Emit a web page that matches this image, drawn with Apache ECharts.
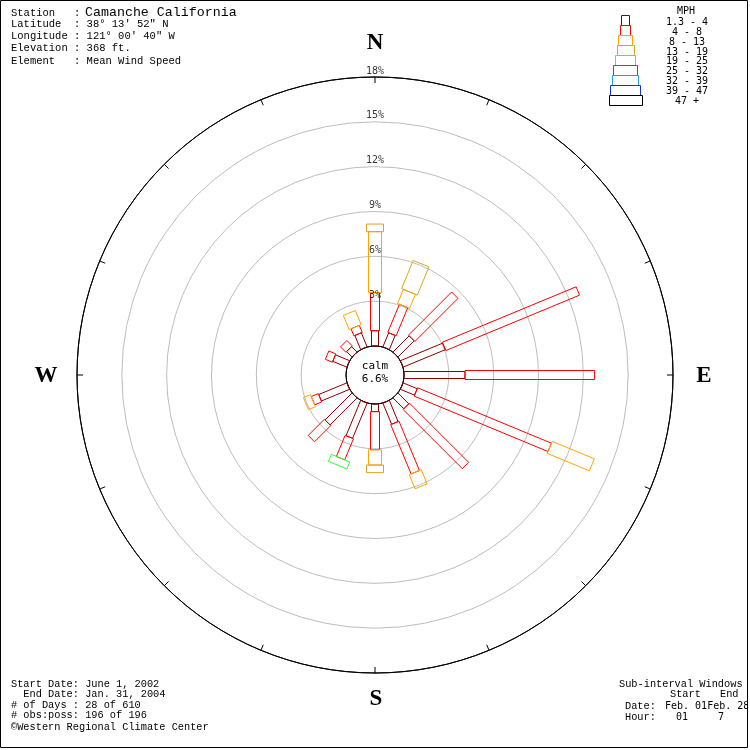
<!DOCTYPE html>
<html><head><meta charset="utf-8">
<script src="https://cdn.jsdelivr.net/npm/echarts@6/dist/echarts.min.js"></script>
<style>html,body{margin:0;padding:0;background:#fff}#c{width:750px;height:750px}</style>
</head><body><div id="c"></div>
<script>
// ---- data ----
const directions = ['N','NNE','NE','ENE','E','ESE','SE','SSE','S','SSW','SW','WSW','W','WNW','NW','NNW'];
const dirAngles  = [0,22.5,45,67.5,90,112.5,135,157.5,180,202.5,225,247.5,270,292.5,315,337.5];
const speedClasses = ['1.3 - 4','4 - 8','8 - 13','13 - 19','19 - 25','25 - 32','32 - 39','39 - 47','47 +'];
// percent of observations per direction for each speed class (MPH)
const pct_1_4   = [1.02,1.02,1.53,3.06,4.08,1.02,1.02,1.53,0.51,2.55,2.55,2.04,0,1.02,0.51,1.02];
const pct_4_8   = [2.55,2.04,4.08,9.69,8.67,9.69,5.61,3.57,2.55,1.53,1.53,0.51,0,0.51,0.51,0.51];
const pct_8_13  = [4.08,1.02,0,0,0,3.06,0,1.02,1.02,0,0,0.51,0,0,0,1.02];
const pct_13_19 = [0.51,2.04,0,0,0,0,0,0,0.51,0,0,0,0,0,0,0];
const pct_19_25 = [0,0,0,0,0,0,0,0,0,0.51,0,0,0,0,0,0];
const pct_25_32 = [0,0,0,0,0,0,0,0,0,0,0,0,0,0,0,0];
const pct_32_39 = [0,0,0,0,0,0,0,0,0,0,0,0,0,0,0,0];
const pct_39_47 = [0,0,0,0,0,0,0,0,0,0,0,0,0,0,0,0];
const pct_47up  = [0,0,0,0,0,0,0,0,0,0,0,0,0,0,0,0];
const ringTicks = [3,6,9,12,15,18];
const calmPct = 6.6;

// ---- styles ----
const classColors = ['#8b0000','#ff0000','#ffa500','#daa520','#33ff33','#009900','#1e9fe6','#1530e0','#000000'];
const barWidths   = [7,9,13,17,20,24,26,30,33];
const legendWidths= [8,10,14,17,20,24,26,30,33];

const classValues = [pct_1_4,pct_4_8,pct_8_13,pct_13_19,pct_19_25,pct_25_32,pct_32_39,pct_39_47,pct_47up];
const segments = [];
directions.forEach((d, i) => {
  let cum = 0;
  classValues.forEach((arr, k) => {
    const v = arr[i];
    if (v > 0) { segments.push([dirAngles[i], cum, cum + v, k]); cum += v; }
  });
});

const chart = echarts.init(document.getElementById('c'), null, {renderer: 'canvas'});
const MONO = '"Liberation Mono", monospace';
const SMONO = '"DejaVu Sans Mono", monospace';
function txt(text, x, y, font, align) {
  return {type: 'text', x: x, y: y, z: 10, silent: true,
    style: {text: text, font: font, fill: '#000', textAlign: align || 'left', textVerticalAlign: 'middle', verticalAlign: 'middle'}};
}
const graphics = [];
// header
const hdr = ['Station   : ', 'Latitude  : 38\u00b0 13\' 52" N', 'Longitude : 121\u00b0 00\' 40" W', 'Elevation : 368 ft.', 'Element   : Mean Wind Speed'];
const hdrY = [13, 24.5, 36, 48.5, 61];
hdr.forEach((t, i) => graphics.push(txt(t, 11, hdrY[i], '10.5px ' + MONO)));
graphics.push(txt('Camanche California', 85, 12.5, '13.3px ' + MONO));
// footer left
const ftr = ['Start Date: June 1, 2002', '  End Date: Jan. 31, 2004', '# of Days : 28 of 610', '# obs:poss: 196 of 196', '\u00a9Western Regional Climate Center'];
const ftrY = [684, 694.5, 705, 715.5, 727];
ftr.forEach((t, i) => graphics.push(txt(t, 11, ftrY[i], '10.3px ' + MONO)));
// footer right
graphics.push(txt('Sub-interval Windows', 619, 684, '10.3px ' + MONO));
graphics.push(txt('Start', 670, 694.5, '10.3px ' + MONO));
graphics.push(txt('End', 720, 694.5, '10.3px ' + MONO));
graphics.push(txt('Date:', 625, 706, '10.3px ' + MONO));
graphics.push(txt('Feb. 01Feb. 28', 665, 706, '10px ' + SMONO));
graphics.push(txt('Hour:', 625, 717, '10.3px ' + MONO));
graphics.push(txt('01', 676, 717, '10px ' + SMONO));
graphics.push(txt('7', 718, 717, '10px ' + SMONO));
// cardinal letters
const SERIF = 'bold 23px "Liberation Serif", serif';
graphics.push(txt('N', 375, 43, SERIF, 'center'));
graphics.push(txt('S', 376, 699, SERIF, 'center'));
graphics.push(txt('E', 704, 376, SERIF, 'center'));
graphics.push(txt('W', 46, 376, SERIF, 'center'));
// calm
graphics.push(txt('calm', 375, 366, '11px ' + SMONO, 'center'));
graphics.push(txt(calmPct.toFixed(1) + '%', 375, 379, '11px ' + SMONO, 'center'));
// legend
graphics.push(txt('MPH', 686, 11, '10px ' + SMONO, 'center'));
speedClasses.forEach((lab, i) => {
  const w = legendWidths[i];
  graphics.push({type: 'rect', z: 10, silent: true,
    shape: {x: Math.round(625 - w / 2) + 0.5, y: 15.5 + 10 * i, width: w, height: 10},
    style: {fill: 'none', stroke: classColors[i], lineWidth: 1}});
  graphics.push(txt(lab, 687, 22.7 + 9.8 * i, '10px ' + SMONO, 'center'));
});
// right clip + border
graphics.push({type: 'rect', z: 20, silent: true, shape: {x: 748, y: 0, width: 2, height: 750}, style: {fill: '#fff'}});
graphics.push({type: 'rect', z: 21, silent: true, shape: {x: 0.5, y: 0.5, width: 747, height: 747}, style: {fill: 'none', stroke: '#000', lineWidth: 1}});

chart.setOption({
  animation: false,
  backgroundColor: '#fff',
  polar: {center: ['50%', '50%'], radius: [29, 298]},
  angleAxis: {
    type: 'value', min: 0, max: 360, interval: 22.5, startAngle: 90, clockwise: true,
    axisLine: {show: true, lineStyle: {color: '#000', width: 1}},
    axisTick: {show: true, inside: true, length: 6, lineStyle: {color: '#000', width: 1}},
    axisLabel: {show: false}, splitLine: {show: false}
  },
  radiusAxis: {
    type: 'value', min: 0, max: 18, interval: 3,
    axisLine: {show: false}, axisTick: {show: false}, axisLabel: {show: false},
    splitLine: {show: true, lineStyle: {color: ['#000', '#bdbdbd', '#bdbdbd', '#bdbdbd', '#bdbdbd', '#bdbdbd', '#000'], width: 1}}
  },
  graphic: graphics,
  series: [
    {
      type: 'custom', coordinateSystem: 'polar', silent: true, z: 3,
      encode: {radius: 2, angle: 0},
      data: segments,
      renderItem: function (params, api) {
        const ang = api.value(0), r0 = api.value(1), r1 = api.value(2), k = api.value(3);
        const p0 = api.coord([r0, ang]);
        const p1 = api.coord([r1, ang]);
        const dx = p1[0] - p0[0], dy = p1[1] - p0[1];
        const len = Math.hypot(dx, dy) || 1;
        const nx = -dy / len, ny = dx / len;
        const hw = barWidths[k] / 2;
        return {
          type: 'polygon',
          shape: {points: [
            [p0[0] + nx * hw, p0[1] + ny * hw], [p1[0] + nx * hw, p1[1] + ny * hw],
            [p1[0] - nx * hw, p1[1] - ny * hw], [p0[0] - nx * hw, p0[1] - ny * hw]
          ]},
          style: {fill: 'none', stroke: classColors[k], lineWidth: 1}
        };
      }
    },
    {
      type: 'scatter', coordinateSystem: 'polar', silent: true, symbolSize: 0, z: 4,
      data: ringTicks.map(v => [v, 0]),
      label: {show: true, position: 'top', distance: 1, color: '#000', fontFamily: 'DejaVu Sans Mono', fontSize: 10,
        formatter: p => p.value[0] + '%'}
    }
  ]
});
</script></body></html>
